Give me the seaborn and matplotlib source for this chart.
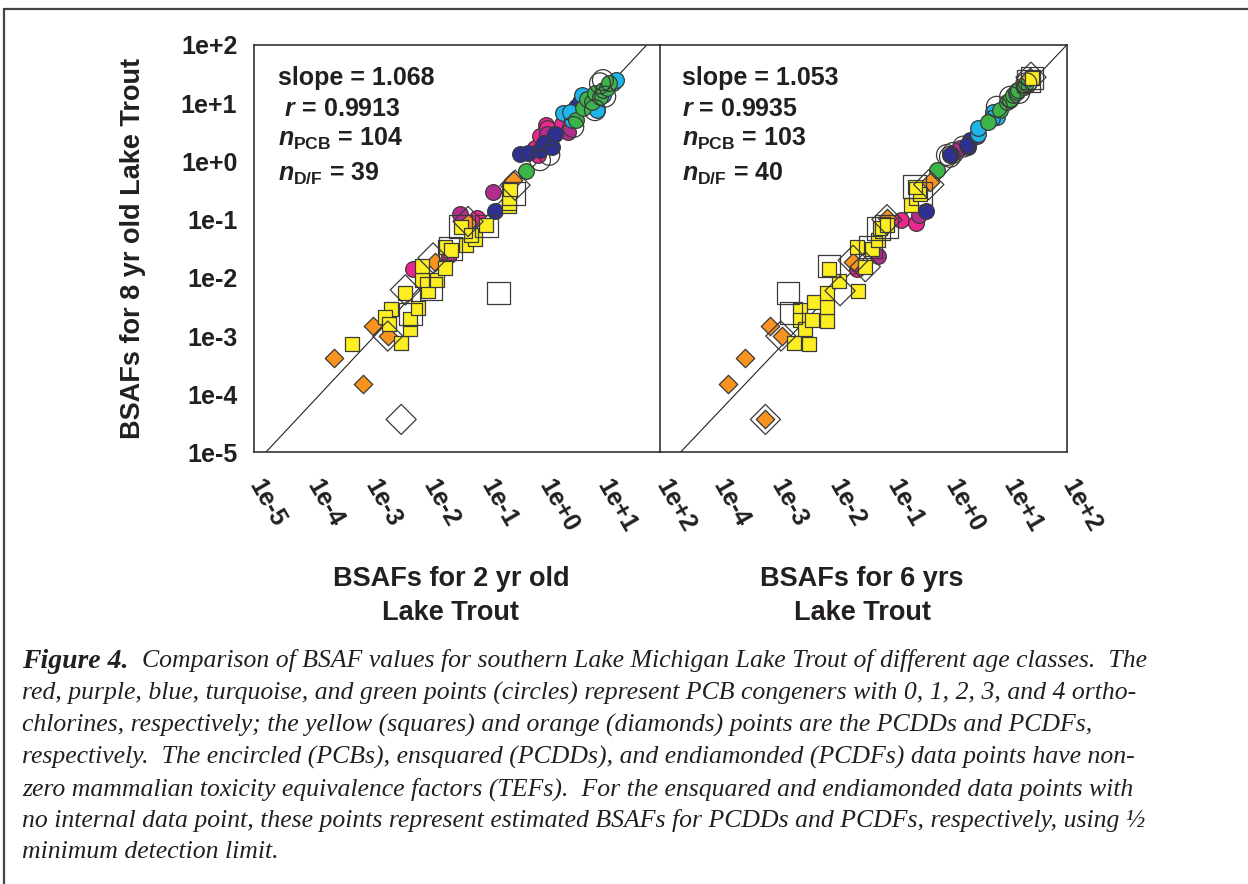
import matplotlib
matplotlib.use("Agg")
import matplotlib.pyplot as plt
import matplotlib.patches as patches
import numpy as np
import pandas as pd
import seaborn as sns

# --- left panel: 2 yr (x) vs 8 yr (y) ---
a_pcb0_x = [5.4e-3, 6.8e-2, 0.78, 0.68, 0.83, 1.05, 2.0, 1.1]
a_pcb0_y = [1.4e-2, 0.105, 1.3, 1.7, 2.7, 4.2, 4.4, 3.7]
a_pcb1_x = [2.3e-2, 3.5e-2, 0.13, 1.1, 2.5]
a_pcb1_y = [2.5e-2, 0.125, 0.30, 3.0, 3.2]
a_pcb2_x = [0.14, 0.37, 0.52, 0.83, 0.98, 1.35, 1.5, 3.5, 4.0]
a_pcb2_y = [0.14, 1.35, 1.37, 1.6, 2.1, 1.8, 3.0, 8.7, 10.5]
a_pcb3_x = [2.1, 2.9, 2.7, 4.3, 7.8, 10, 15, 17]
a_pcb3_y = [6.7, 5.1, 7.1, 14, 7.6, 14, 22, 25]
a_pcb4_x = [0.48, 3.5, 4.6, 5.3, 6.4, 7.3, 8.9, 10, 12, 13]
a_pcb4_y = [0.68, 5.1, 8.2, 12, 10.6, 15, 13, 17, 18, 22]
a_pcdd_x = [4.9e-4, 3.4e-3, 2.3e-3, 1.8e-3, 2.1e-3, 4.9e-3, 4.9e-3, 6.5e-3, 4.0e-3, 1.0e-2,
            7.7e-3, 1.4e-2, 7.7e-3, 1.9e-2, 1.9e-2, 2.4e-2, 4.5e-2, 6.4e-2, 3.6e-2, 9.8e-2,
            5.5e-2, 0.24, 0.25, 0.24]
a_pcdd_y = [7.4e-4, 7.5e-4, 2.9e-3, 2.1e-3, 1.6e-3, 1.3e-3, 2.0e-3, 3.0e-3, 5.5e-3, 6.0e-3,
            9.2e-3, 9.2e-3, 1.6e-2, 1.5e-2, 3.4e-2, 3.0e-2, 3.7e-2, 4.6e-2, 7.4e-2, 8.0e-2,
            5.4e-2, 0.17, 0.32, 0.19]
a_pcdf_x = [2.4e-4, 7.5e-4, 1.1e-3, 2.0e-3, 1.3e-2, 4.8e-2, 0.29]
a_pcdf_y = [4.2e-4, 1.5e-4, 1.5e-3, 1.0e-3, 1.9e-2, 8.9e-2, 0.48]
a_tef_circle_x = [8.9, 11, 3.1, 0.83, 10, 1.2, 7.3]
a_tef_circle_y = [22, 13, 3.9, 1.05, 25, 1.3, 7.6]
a_tef_square_x = [0.16, 1.1e-2, 2.4e-2, 3.6e-2, 0.10, 0.29, 4.9e-3]
a_tef_square_y = [5.5e-3, 6.6e-3, 3.2e-2, 7.6e-2, 7.8e-2, 0.28, 2.4e-3]
a_tef_diamond_x = [3.4e-3, 2.0e-3, 4.0e-3, 4.8e-2, 0.31, 1.2e-2]
a_tef_diamond_y = [3.7e-5, 1.0e-3, 6.2e-3, 9.3e-2, 0.39, 2.2e-2]

# --- right panel: 6 yr (x) vs 8 yr (y) ---
b_pcb0_x = [2.4e-2, 0.14, 0.25, 1.1]
b_pcb0_y = [1.4e-2, 0.10, 0.089, 1.4]
b_pcb1_x = [5.7e-2, 0.28, 1.45, 2.8]
b_pcb1_y = [2.4e-2, 0.12, 1.7, 2.7]
b_pcb2_x = [0.37, 0.97, 2.0, 2.15, 1.88]
b_pcb2_y = [0.14, 1.3, 1.8, 2.3, 1.9]
b_pcb3_x = [3.0, 5.4, 6.2, 5.4, 3.0, 5.1]
b_pcb3_y = [3.0, 5.5, 5.9, 7.1, 3.7, 5.5]
b_pcb4_x = [0.57, 4.4, 7.0, 9.4, 10.5, 12, 13.6, 14.6, 18, 20]
b_pcb4_y = [0.71, 4.8, 7.6, 10.6, 11.4, 14, 15.8, 17, 19, 22]
b_pcdd_x = [2.0e-3, 3.7e-3, 2.6e-3, 2.6e-3, 3.1e-3, 4.1e-3, 4.5e-3, 7.4e-3, 7.4e-3, 7.4e-3,
            1.2e-2, 8.1e-3, 2.5e-2, 3.4e-2, 2.4e-2, 4.4e-2, 5.7e-2, 6.1e-2, 7.9e-2, 0.21,
            0.30, 0.24, 25]
b_pcdd_y = [7.6e-4, 7.3e-4, 2.8e-3, 1.9e-3, 1.3e-3, 1.9e-3, 3.9e-3, 1.8e-3, 3.2e-3, 5.4e-3,
            8.8e-3, 1.4e-2, 6.0e-3, 1.55e-2, 3.4e-2, 3.1e-2, 4.5e-2, 7.1e-2, 8.1e-2, 0.18,
            0.28, 0.37, 27]
b_pcdf_x = [6.5e-4, 1.5e-4, 2.9e-4, 7.7e-4, 1.25e-3, 2.1e-2, 0.44, 23, 7.9e-2]
b_pcdf_y = [3.7e-5, 1.5e-4, 4.2e-4, 1.5e-3, 1.0e-3, 1.9e-2, 0.45, 28, 0.105]
b_tef_circle_x = [1.1, 0.86, 1.65, 0.97, 6.2, 10.5, 20, 15]
b_tef_circle_y = [1.4, 1.29, 1.8, 1.2, 8.7, 12.9, 22, 15]
b_tef_square_x = [1.6e-3, 1.8e-3, 8.1e-3, 4.2e-2, 5.7e-2, 7.9e-2, 0.30, 0.24, 25, 22]
b_tef_square_y = [5.5e-3, 2.5e-3, 1.6e-2, 3.4e-2, 7.1e-2, 7.6e-2, 0.28, 0.37, 27, 24]
b_tef_diamond_x = [6.5e-4, 1.2e-3, 2.1e-2, 1.25e-2, 8e-2, 0.42, 24, 3.4e-2]
b_tef_diamond_y = [3.7e-5, 1.0e-3, 2.0e-2, 6.0e-3, 0.10, 0.40, 28, 1.55e-2]

# regression lines (log10 y = slope * log10 x + intercept)
a_slope, a_intercept = 1.068, 0.127
b_slope, b_intercept = 1.053, -0.101

tick_vals = [1e-5, 1e-4, 1e-3, 1e-2, 1e-1, 1e0, 1e1, 1e2]
tick_text = ["1e-5", "1e-4", "1e-3", "1e-2", "1e-1", "1e+0", "1e+1", "1e+2"]

a_stats = ["slope = 1.068", r" $r$ = 0.9913", r"$n_{\mathrm{PCB}}$ = 104", r"$n_{\mathrm{D/F}}$ = 39"]
b_stats = ["slope = 1.053", r"$r$ = 0.9935", r"$n_{\mathrm{PCB}}$ = 103", r"$n_{\mathrm{D/F}}$ = 40"]

caption_head = "Figure 4."
caption_lines = [
    "Comparison of BSAF values for southern Lake Michigan Lake Trout of different age classes.  The",
    "red, purple, blue, turquoise, and green points (circles) represent PCB congeners with 0, 1, 2, 3, and 4 ortho-",
    "chlorines, respectively; the yellow (squares) and orange (diamonds) points are the PCDDs and PCDFs,",
    "respectively.  The encircled (PCBs), ensquared (PCDDs), and endiamonded (PCDFs) data points have non-",
    "zero mammalian toxicity equivalence factors (TEFs).  For the ensquared and endiamonded data points with",
    "no internal data point, these points represent estimated BSAFs for PCDDs and PCDFs, respectively, using \u00bd",
    "minimum detection limit.",
]

sns.set_theme(style="white")
plt.rcParams["font.family"] = ["Liberation Sans", "DejaVu Sans"]
plt.rcParams["mathtext.fontset"] = "custom"
plt.rcParams["mathtext.rm"] = "Liberation Sans:bold"
plt.rcParams["mathtext.bf"] = "Liberation Sans:bold"
plt.rcParams["mathtext.it"] = "Liberation Sans:italic:bold"

W, H = 1248, 884
fig = plt.figure(figsize=(W / 100, H / 100), dpi=100)
fig.patch.set_facecolor("white")

edge = "#3a3a3a"
styles = [
    # name, marker, size, face
    ("pcb0", "o", 128, "#ec268f"),
    ("pcb1", "o", 128, "#b32d8f"),
    ("pcb2", "o", 128, "#2e3192"),
    ("pcb3", "o", 128, "#1cb6ea"),
    ("pcb4", "o", 128, "#3bb44a"),
    ("pcdf", "D", 88, "#f7931e"),
    ("pcdd", "s", 104, "#fcee21"),
    ("tef_circle", "o", 225, "none"),
    ("tef_square", "s", 265, "none"),
    ("tef_diamond", "D", 235, "none"),
]


def panel_frame(prefix):
    g = globals()
    rows = []
    for name, *_ in styles:
        xs = g[f"{prefix}_{name}_x"]
        ys = g[f"{prefix}_{name}_y"]
        rows.append(pd.DataFrame({"x": xs, "y": ys, "group": name}))
    return pd.concat(rows, ignore_index=True)


def draw_panel(ax, df, slope, intercept, stats, stat_x):
    lx = np.array([1e-5, 1e2])
    ly = 10 ** (slope * np.log10(lx) + intercept)
    ax.plot(lx, ly, color="#222222", lw=0.8, zorder=1)
    for name, marker, size, face in styles:
        sub = df[df["group"] == name]
        sns.scatterplot(data=sub, x="x", y="y", marker=marker, s=size, color=face,
                        edgecolor=edge, linewidth=0.9, ax=ax, zorder=3, legend=False)
    ax.set_xscale("log")
    ax.set_yscale("log")
    ax.set_xlim(1e-5, 1e2)
    ax.set_ylim(1e-5, 1e2)
    ax.minorticks_off()
    ax.set_xlabel("")
    ax.set_ylabel("")
    for sp in ax.spines.values():
        sp.set_visible(True)
        sp.set_color("#333333")
        sp.set_linewidth(1.2)
    ax.tick_params(direction="out", length=5, width=1, color="#333333")
    ys = [0.918, 0.844, 0.770, 0.685]
    for txt, yy in zip(stats, ys):
        ax.text(stat_x, yy, txt, transform=ax.transAxes, fontsize=18, fontweight="bold",
                color="#231f20", ha="left", va="center")


left = fig.add_axes([254 / W, 1 - 452.5 / H, 407 / W, 407.5 / H])
right = fig.add_axes([660 / W, 1 - 452.5 / H, 407 / W, 407.5 / H])

draw_panel(left, panel_frame("a"), a_slope, a_intercept, a_stats, 0.059)
draw_panel(right, panel_frame("b"), b_slope, b_intercept, b_stats, 0.054)

for ax, labels in [(left, tick_text), (right, [""] + tick_text[1:])]:
    ax.set_xticks(tick_vals)
    ax.set_xticklabels(labels, rotation=-60, ha="left", va="center",
                       rotation_mode="anchor", fontsize=18, fontweight="bold", color="#231f20")
    ax.tick_params(axis="x", pad=16)

left.set_yticks(tick_vals)
left.set_yticklabels(tick_text, fontsize=18, fontweight="bold", color="#231f20")
left.tick_params(axis="y", pad=7)
right.set_yticks(tick_vals)
right.set_yticklabels([])
right.tick_params(axis="y", length=0)

fig.text(133 / W, 1 - 248 / H, "BSAFs for 8 yr old Lake Trout", rotation=90, ha="center",
         va="center", fontsize=19.5, fontweight="bold", color="#231f20")
fig.text(451 / W, 1 - 596 / H, "BSAFs for 2 yr old\nLake Trout", ha="center", va="center",
         fontsize=19.5, fontweight="bold", color="#231f20", linespacing=1.45)
fig.text(862 / W, 1 - 596 / H, "BSAFs for 6 yrs\nLake Trout", ha="center", va="center",
         fontsize=19.5, fontweight="bold", color="#231f20", linespacing=1.45)

# caption
cap_font = ["Liberation Serif", "DejaVu Serif"]
cap_size = 18.5
line_y = [661, 693, 725, 757, 789, 821, 852]
head = fig.text(22 / W, 1 - line_y[0] / H, caption_head, ha="left", va="center", fontsize=20,
                fontstyle="italic", fontweight="bold", family=cap_font, color="#231f20")
fig.canvas.draw()
bb = head.get_window_extent()
body_x = bb.x1 + 14
fig.text(body_x / W, 1 - line_y[0] / H, caption_lines[0], ha="left", va="center",
         fontsize=cap_size, fontstyle="italic", family=cap_font, color="#231f20")
for txt, yy in zip(caption_lines[1:], line_y[1:]):
    fig.text(22 / W, 1 - yy / H, txt, ha="left", va="center", fontsize=cap_size,
             fontstyle="italic", family=cap_font, color="#231f20")

# frame around the figure
fig.patches.append(patches.Rectangle((4 / W, -0.05), 1.2, 1 - 9 / H + 0.05, transform=fig.transFigure,
                                     fill=False, lw=1.6, edgecolor="#444444"))

fig.savefig("out.png", dpi=100, facecolor="white")
